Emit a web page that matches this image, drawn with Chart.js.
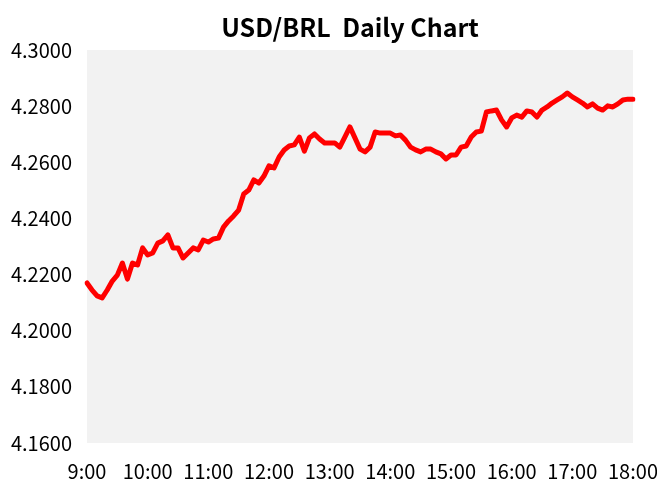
<!DOCTYPE html>
<html>
<head>
<meta charset="utf-8">
<script src="https://cdn.jsdelivr.net/npm/chart.js@4"></script>
<style>
  html, body { margin: 0; padding: 0; background: #ffffff; }
  #wrap { width: 657px; height: 485px; }
</style>
</head>
<body>
<div id="wrap"><canvas id="myChart" width="657" height="485"></canvas></div>
<script>
// 5-minute rates, 9:00 to 18:00
var rates = [
  4.2170, 4.2145, 4.2124, 4.2117, 4.2145, 4.2177, 4.2198, 4.2241, 4.2184, 4.2241,
  4.2234, 4.2295, 4.2270, 4.2277, 4.2312, 4.2320, 4.2341, 4.2295, 4.2295, 4.2259,
  4.2277, 4.2295, 4.2288, 4.2323, 4.2316, 4.2327, 4.2330, 4.2369, 4.2391, 4.2409,
  4.2430, 4.2487, 4.2501, 4.2537, 4.2526, 4.2551, 4.2587, 4.2580, 4.2619, 4.2644,
  4.2658, 4.2662, 4.2690, 4.2640, 4.2687, 4.2701, 4.2683, 4.2669, 4.2669, 4.2669,
  4.2654, 4.2690, 4.2726, 4.2687, 4.2647, 4.2637, 4.2654, 4.2708, 4.2704, 4.2704,
  4.2704, 4.2694, 4.2697, 4.2679, 4.2654, 4.2644, 4.2637, 4.2647, 4.2647, 4.2637,
  4.2630, 4.2612, 4.2626, 4.2626, 4.2654, 4.2658, 4.2690, 4.2708, 4.2711, 4.2779,
  4.2783, 4.2786, 4.2751, 4.2726, 4.2758, 4.2768, 4.2761, 4.2783, 4.2779, 4.2761,
  4.2786, 4.2797, 4.2811, 4.2822, 4.2833, 4.2847, 4.2833, 4.2822, 4.2811, 4.2797,
  4.2808, 4.2793, 4.2786, 4.2801, 4.2797, 4.2808, 4.2822, 4.2825, 4.2825
]
var hours = ['9', '10', '11', '12', '13', '14', '15', '16', '17', '18']
var minutes = ['00', '05', '10', '15', '20', '25', '30', '35', '40', '45', '50', '55']
var yMin = 4.16
var yMax = 4.30
var yStep = 0.02
var titleText = 'USD/BRL  Daily Chart'

var times = []
for (var h = 0; h < hours.length; h++) {
  for (var m = 0; m < minutes.length; m++) {
    if (times.length < rates.length) times.push(hours[h] + ':' + minutes[m])
  }
}

var fontName = '"Noto Sans CJK JP", "Liberation Sans", sans-serif'

// gray plot background + title centered a bit right like the original
var plotBg = {
  id: 'plotBg',
  beforeDraw: function(chart) {
    var a = chart.chartArea
    var c = chart.ctx
    c.save()
    c.fillStyle = '#f2f2f2'
    c.fillRect(a.left, a.top, a.right - a.left, a.bottom - a.top)
    c.restore()
  },
  afterDraw: function(chart) {
    var c = chart.ctx
    c.save()
    c.fillStyle = '#000000'
    c.font = 'bold 25px ' + fontName
    c.textAlign = 'center'
    c.textBaseline = 'middle'
    c.fillText(titleText, 350, 27)
    c.restore()
  }
}

const ctx = document.getElementById('myChart');
new Chart(ctx, {
  type: 'line',
  data: {
    labels: times,
    datasets: [{
      label: 'USD/BRL',
      data: rates,
      borderColor: '#ff0000',
      borderWidth: 5,
      pointRadius: 0,
      tension: 0,
      borderJoinStyle: 'round',
      borderCapStyle: 'round'
    }]
  },
  options: {
    responsive: false,
    animation: false,
    layout: { padding: { left: 0, right: 0, top: 50, bottom: 0 } },
    plugins: {
      legend: { display: false },
      tooltip: { enabled: false },
      title: { display: false }
    },
    scales: {
      x: {
        offset: false,
        grid: { display: false, drawTicks: false },
        border: { display: false },
        afterFit: function(scale) {
          scale.paddingLeft = 0
          scale.paddingRight = 24
          scale.height = 42
        },
        ticks: {
          autoSkip: false,
          maxRotation: 0,
          color: '#000000',
          padding: 16,
          font: { family: fontName, size: 20 },
          callback: function(v) {
            var t = times[v]
            return t.slice(-3) === ':00' ? t : null
          }
        }
      },
      y: {
        min: yMin,
        max: yMax,
        afterFit: function(scale) { scale.width = 87 },
        grid: { display: false, drawTicks: false },
        border: { display: false },
        ticks: {
          stepSize: yStep,
          color: '#000000',
          padding: 15,
          font: { family: fontName, size: 20 },
          callback: function(v) { return v.toFixed(4) }
        }
      }
    }
  },
  plugins: [plotBg]
});
</script>
</body>
</html>
